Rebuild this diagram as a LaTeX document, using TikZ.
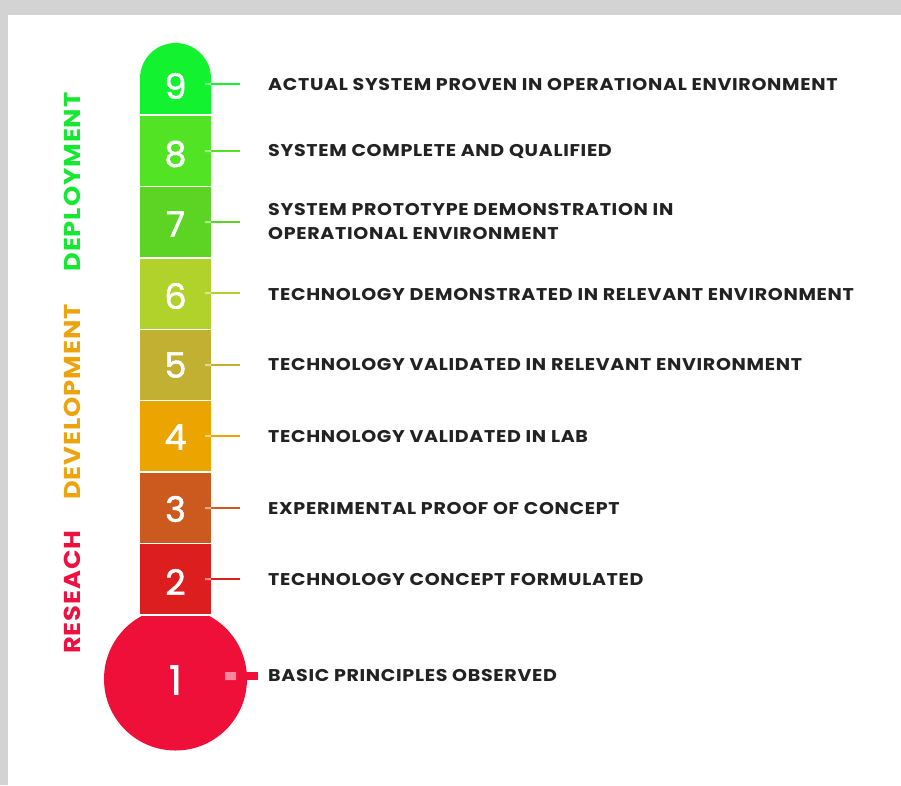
\documentclass[tikz,border=0pt]{standalone}
\usepackage{fontspec}
\setmainfont{Poppins}
\newfontfamily\widefont{Poppins}[FakeStretch=1.12,LetterSpace=4]
\newfontfamily\digitfont{Poppins}[FakeBold=1.6]
\usepackage{xcolor}
\usepackage{tikz}
\usetikzlibrary{positioning}

\definecolor{frame}{HTML}{D3D3D3}
\definecolor{textgrey}{HTML}{222222}
\definecolor{lvl9}{HTML}{12F22E}
\definecolor{lvl8}{HTML}{52E424}
\definecolor{lvl7}{HTML}{5CD424}
\definecolor{lvl6}{HTML}{B0D22A}
\definecolor{lvl5}{HTML}{C2B032}
\definecolor{lvl4}{HTML}{ECA400}
\definecolor{lvl3}{HTML}{CC5A1E}
\definecolor{lvl2}{HTML}{DC1F1E}
\definecolor{lvl1}{HTML}{EE1039}
\definecolor{deploy}{HTML}{14E830}
\definecolor{develop}{HTML}{ECA30C}
\definecolor{research}{HTML}{EE1040}

\begin{document}
\begin{tikzpicture}[x=1pt,y=-1pt,
                    level node/.style={text=white,inner sep=0pt,font=\digitfont\fontsize{35}{35}\selectfont},
                    step label/.style={anchor=west,inner sep=0pt,align=left,text=textgrey,
                                       font=\widefont\bfseries\fontsize{17}{24}\selectfont},
                    phase/.style={rotate=90,inner sep=0pt,font=\widefont\bfseries\fontsize{23}{23}\selectfont},
                    tick/.style={line width=2pt,shorten >=28pt},
                    tick inner/.style={white,opacity=0.5}]

  \useasboundingbox (0,0) rectangle (901,785);
  \fill[frame] (0,0) rectangle (901,785);
  \fill[white] (8,15) rectangle (901,785);

  % thermometer
  \fill[lvl1] (175.5,679) circle[radius=71.5];
  \fill[lvl9] (140,115) -- (140,78.5) arc[start angle=180,end angle=360,radius=35.5] -- (211,115) -- cycle;
  \fill[lvl8] (140,115) rectangle (211,186.4);
  \fill[lvl7] (140,186.4) rectangle (211,257.9);
  \fill[lvl6] (140,257.9) rectangle (211,329.3);
  \fill[lvl5] (140,329.3) rectangle (211,400.7);
  \fill[lvl4] (140,400.7) rectangle (211,472.1);
  \fill[lvl3] (140,472.1) rectangle (211,543.6);
  \fill[lvl2] (140,543.6) rectangle (211,615);
  \draw[white,line width=1.5pt] (140,115) -- (211,115) (140,186.4) -- (211,186.4)
    (140,257.9) -- (211,257.9) (140,329.3) -- (211,329.3) (140,400.7) -- (211,400.7)
    (140,472.1) -- (211,472.1) (140,543.6) -- (211,543.6) (140,615) -- (211,615);

  \node[level node] (n9) at (175.5,86) {9};
  \node[level node] (n8) at (175.5,154) {8};
  \node[level node] (n7) at (175.5,224) {7};
  \node[level node] (n6) at (175.5,296) {6};
  \node[level node] (n5) at (175.5,365) {5};
  \node[level node] (n4) at (175.5,437) {4};
  \node[level node] (n3) at (175.5,509) {3};
  \node[level node] (n2) at (175.5,582) {2};
  \node[level node,font=\digitfont\fontsize{40}{40}\selectfont] (n1) at (175.5,680) {1};

  % descriptions
  \node[step label] (t9) at (268,85) {ACTUAL SYSTEM PROVEN IN OPERATIONAL ENVIRONMENT};
  \node[step label] (t8) at (268,151) {SYSTEM COMPLETE AND QUALIFIED};
  \node[step label] (t7) at (268,222) {SYSTEM PROTOTYPE DEMONSTRATION IN\\OPERATIONAL ENVIRONMENT};
  \node[step label] (t6) at (268,294) {TECHNOLOGY DEMONSTRATED IN RELEVANT ENVIRONMENT};
  \node[step label] (t5) at (268,364) {TECHNOLOGY VALIDATED IN RELEVANT ENVIRONMENT};
  \node[step label] (t4) at (268,436) {TECHNOLOGY VALIDATED IN LAB};
  \node[step label] (t3) at (268,508) {EXPERIMENTAL PROOF OF CONCEPT};
  \node[step label] (t2) at (268,579) {TECHNOLOGY CONCEPT FORMULATED};
  \node[step label] (t1) at (268,675) {BASIC PRINCIPLES OBSERVED};

  \coordinate (c9) at (205,84);
  \coordinate (c8) at (205,151);
  \coordinate (c7) at (205,222);
  \coordinate (c6) at (205,293);
  \coordinate (c5) at (205,365);
  \coordinate (c4) at (205,436);
  \coordinate (c3) at (205,508);
  \coordinate (c2) at (205,579);
  \coordinate (c1) at (225,676);

  \draw[tick,lvl9] (c9) -- (c9 -| t9.west);
  \draw[tick,lvl8] (c8) -- (c8 -| t8.west);
  \draw[tick,lvl7] (c7) -- (c7 -| t7.west);
  \draw[tick,lvl6] (c6) -- (c6 -| t6.west);
  \draw[tick,lvl5] (c5) -- (c5 -| t5.west);
  \draw[tick,lvl4] (c4) -- (c4 -| t4.west);
  \draw[tick,lvl3] (c3) -- (c3 -| t3.west);
  \draw[tick,lvl2] (c2) -- (c2 -| t2.west);
  \draw[tick,lvl1,line width=8pt,shorten >=10pt] (c1) -- (c1 -| t1.west);

  % lighter part of each tick inside the tube
  \fill[tick inner] (205,83) rectangle (211,85) (205,150) rectangle (211,152)
    (205,221) rectangle (211,223) (205,292) rectangle (211,294) (205,364) rectangle (211,366)
    (205,435) rectangle (211,437) (205,507) rectangle (211,509) (205,578) rectangle (211,580)
    (225,672) rectangle (236,680);

  % phases
  \node[phase,text=deploy] (deployment) at (72,182) {DEPLOYMENT};
  \node[phase,text=develop] (development) at (72,402) {DEVELOPMENT};
  \node[phase,text=research] (research) at (72,592) {RESEACH};
\end{tikzpicture}
\end{document}
